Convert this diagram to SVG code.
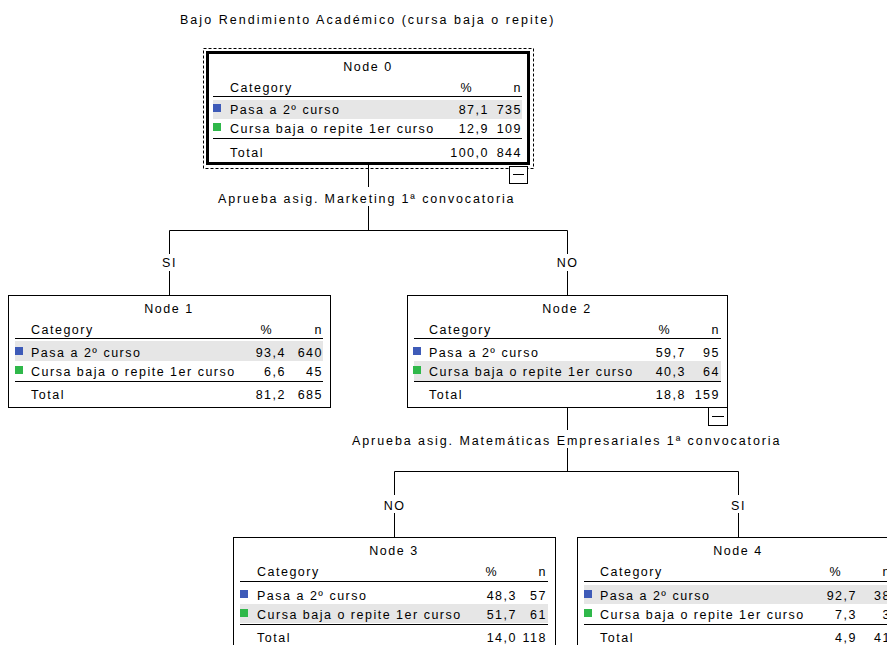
<svg xmlns="http://www.w3.org/2000/svg" width="887" height="645" viewBox="0 0 887 645">
<defs>
<style>
text{font-family:"Liberation Sans",Arial,sans-serif;font-size:12.5px;letter-spacing:1.5px;fill:#000}
.c{text-anchor:middle}
.r{text-anchor:end}
.box{fill:#fff;stroke:#000;stroke-width:1}
.thick{fill:#fff;stroke:#000;stroke-width:3}
.dash{fill:none;stroke:#000;stroke-width:1;stroke-dasharray:3,2}
.hl{fill:#e6e6e6}
.sep{stroke:#000;stroke-width:1}
.blue{fill:#3e5bb8}
.green{fill:#2fb84a}
.conn{fill:none;stroke:#000;stroke-width:1}
.col{fill:#fff;stroke:#000;stroke-width:1}
</style>
</defs>
<rect width="887" height="645" fill="#fff"/>
<text x="180" y="24" textLength="375" lengthAdjust="spacing">Bajo Rendimiento Académico (cursa baja o repite)</text>

<g id="connectors">
<path class="conn" d="M368.5,164 V187 M368.5,206 V230.5 M169.5,230.5 H567.5 M169.5,230.5 V254 M169.5,271 V295 M567.5,230.5 V254 M567.5,271 V295"/>
<path class="conn" d="M567.5,407 V430 M567.5,448 V471.5 M394.5,471.5 H738.5 M394.5,471.5 V495 M394.5,513 V537 M738.5,471.5 V495 M738.5,513 V537"/>
<text x="218" y="203" textLength="297" lengthAdjust="spacing">Aprueba asig. Marketing 1ª convocatoria</text>
<text x="169.5" y="267" class="c">SI</text>
<text x="567.5" y="267" class="c">NO</text>
<text x="352" y="445" textLength="429" lengthAdjust="spacing">Aprueba asig. Matemáticas Empresariales 1ª convocatoria</text>
<text x="394.5" y="510" class="c">NO</text>
<text x="738.5" y="510" class="c">SI</text>
</g>

<g id="node0">
<rect class="dash" x="203.5" y="48.5" width="330" height="120"/>
<rect class="thick" x="207.5" y="52.5" width="321" height="111"/>
<rect class="hl" x="213" y="100" width="309" height="19"/>
<line class="sep" x1="213" y1="96.5" x2="522" y2="96.5"/>
<line class="sep" x1="213" y1="138.5" x2="522" y2="138.5"/>
<text x="368" y="71" class="c">Node 0</text>
<text x="230" y="92">Category</text>
<text x="473" y="92" class="r">%</text>
<text x="522" y="92" class="r">n</text>
<rect class="blue" x="213" y="104" width="8" height="8"/>
<text x="230" y="114">Pasa a 2º curso</text>
<text x="489" y="114" class="r">87,1</text>
<text x="522" y="114" class="r">735</text>
<rect class="green" x="213" y="123" width="8" height="8"/>
<text x="230" y="133">Cursa baja o repite 1er curso</text>
<text x="489" y="133" class="r">12,9</text>
<text x="522" y="133" class="r">109</text>
<text x="230" y="157">Total</text>
<text x="489" y="157" class="r">100,0</text>
<text x="522" y="157" class="r">844</text>
<rect class="col" x="509.5" y="166.5" width="18" height="17"/>
<line class="sep" x1="513" y1="174.5" x2="524" y2="174.5"/>
</g>

<g id="node1">
<rect class="box" x="8.5" y="295.5" width="322" height="112"/>
<rect class="hl" x="15" y="341" width="308" height="20"/>
<line class="sep" x1="15" y1="338.5" x2="323" y2="338.5"/>
<line class="sep" x1="15" y1="381.5" x2="323" y2="381.5"/>
<text x="169" y="313" class="c">Node 1</text>
<text x="31" y="334">Category</text>
<text x="273" y="334" class="r">%</text>
<text x="323" y="334" class="r">n</text>
<rect class="blue" x="15" y="347" width="8" height="8"/>
<text x="31" y="357">Pasa a 2º curso</text>
<text x="286" y="357" class="r">93,4</text>
<text x="323" y="357" class="r">640</text>
<rect class="green" x="15" y="366" width="8" height="8"/>
<text x="31" y="376">Cursa baja o repite 1er curso</text>
<text x="286" y="376" class="r">6,6</text>
<text x="323" y="376" class="r">45</text>
<text x="31" y="399">Total</text>
<text x="286" y="399" class="r">81,2</text>
<text x="323" y="399" class="r">685</text>
</g>

<g id="node2">
<rect class="box" x="407.5" y="295.5" width="320" height="112"/>
<rect class="hl" x="414" y="361" width="307" height="20"/>
<line class="sep" x1="414" y1="338.5" x2="721" y2="338.5"/>
<line class="sep" x1="414" y1="381.5" x2="721" y2="381.5"/>
<text x="567" y="313" class="c">Node 2</text>
<text x="429" y="334">Category</text>
<text x="671" y="334" class="r">%</text>
<text x="720" y="334" class="r">n</text>
<rect class="blue" x="413" y="347" width="8" height="8"/>
<text x="429" y="357">Pasa a 2º curso</text>
<text x="686" y="357" class="r">59,7</text>
<text x="720" y="357" class="r">95</text>
<rect class="green" x="413" y="366" width="8" height="8"/>
<text x="429" y="376">Cursa baja o repite 1er curso</text>
<text x="686" y="376" class="r">40,3</text>
<text x="720" y="376" class="r">64</text>
<text x="429" y="399">Total</text>
<text x="686" y="399" class="r">18,8</text>
<text x="720" y="399" class="r">159</text>
<rect class="col" x="708.5" y="407.5" width="19" height="18"/>
<line class="sep" x1="712" y1="416.5" x2="724" y2="416.5"/>
</g>

<g id="node3">
<rect class="box" x="233.5" y="537.5" width="322" height="112"/>
<rect class="hl" x="240" y="604" width="308" height="19"/>
<line class="sep" x1="240" y1="581.5" x2="548" y2="581.5"/>
<line class="sep" x1="240" y1="624.5" x2="548" y2="624.5"/>
<text x="394" y="555" class="c">Node 3</text>
<text x="257" y="576">Category</text>
<text x="498" y="576" class="r">%</text>
<text x="547" y="576" class="r">n</text>
<rect class="blue" x="240" y="590" width="8" height="8"/>
<text x="257" y="600">Pasa a 2º curso</text>
<text x="517" y="600" class="r">48,3</text>
<text x="547" y="600" class="r">57</text>
<rect class="green" x="240" y="609" width="8" height="8"/>
<text x="257" y="619">Cursa baja o repite 1er curso</text>
<text x="517" y="619" class="r">51,7</text>
<text x="547" y="619" class="r">61</text>
<text x="257" y="642">Total</text>
<text x="517" y="642" class="r">14,0</text>
<text x="547" y="642" class="r">118</text>
</g>

<g id="node4">
<rect class="box" x="577.5" y="537.5" width="322" height="112"/>
<rect class="hl" x="584" y="585" width="308" height="19"/>
<line class="sep" x1="584" y1="581.5" x2="892" y2="581.5"/>
<line class="sep" x1="584" y1="624.5" x2="892" y2="624.5"/>
<text x="738" y="555" class="c">Node 4</text>
<text x="600" y="576">Category</text>
<text x="842" y="576" class="r">%</text>
<text x="891" y="576" class="r">n</text>
<rect class="blue" x="584" y="590" width="8" height="8"/>
<text x="600" y="600">Pasa a 2º curso</text>
<text x="857" y="600" class="r">92,7</text>
<text x="891" y="600" class="r">38</text>
<rect class="green" x="584" y="609" width="8" height="8"/>
<text x="600" y="619">Cursa baja o repite 1er curso</text>
<text x="857" y="619" class="r">7,3</text>
<text x="891" y="619" class="r">3</text>
<text x="600" y="642">Total</text>
<text x="857" y="642" class="r">4,9</text>
<text x="891" y="642" class="r">41</text>
</g>
</svg>
